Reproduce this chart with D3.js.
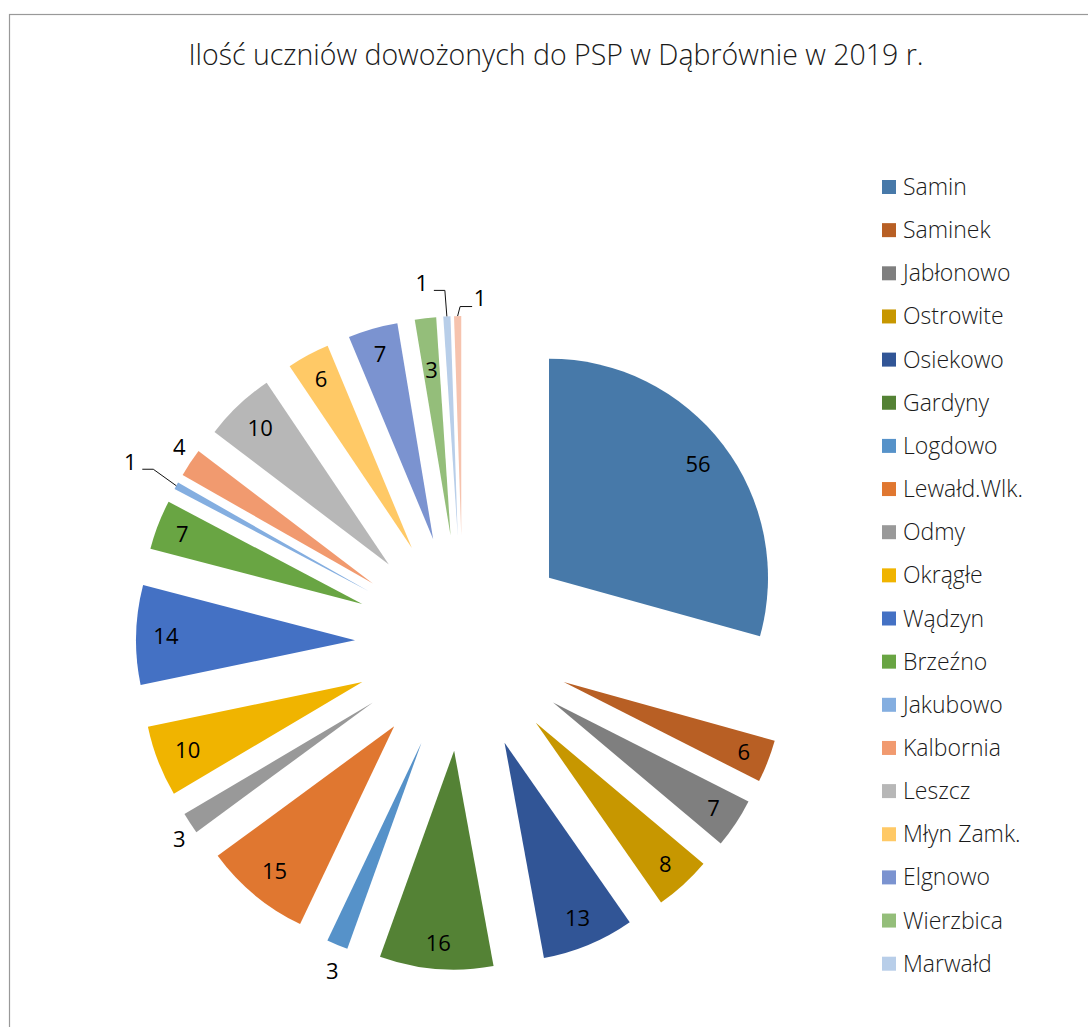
<!DOCTYPE html>
<html>
<head>
<meta charset="utf-8">
<script src="https://cdn.jsdelivr.net/npm/d3@7"></script>
<style>
  html, body { margin: 0; padding: 0; background: #fff; }
  svg { display: block; }
</style>
</head>
<body>
<div id="chart"></div>
<script>
// ---- Data ----
const title = "Ilość uczniów dowożonych do PSP w Dąbrównie w 2019 r.";
const categories = ["Samin", "Saminek", "Jabłonowo", "Ostrowite", "Osiekowo", "Gardyny",
  "Logdowo", "Lewałd.Wlk.", "Odmy", "Okrągłe", "Wądzyn", "Brzeźno", "Jakubowo",
  "Kalbornia", "Leszcz", "Młyn Zamk.", "Elgnowo", "Wierzbica", "Marwałd", "(20)"];
const values = [56, 6, 7, 8, 13, 16, 3, 15, 3, 10, 14, 7, 1, 4, 10, 6, 7, 3, 1, 1];
const legendCount = 19; // legend in the original is cut off after "Marwałd"

// ---- Styles / layout ----
const colors = ["#4779A9", "#B85F24", "#7F7F7F", "#C79700", "#315596", "#548235",
  "#5692C9", "#E07730", "#999999", "#F0B400", "#4471C4", "#69A543",
  "#84AEE0", "#F19A6F", "#B7B7B7", "#FFC966", "#7B93D0", "#94BE7A", "#B8CEE9", "#F6C3AE"];
const labelMode = { "Logdowo": "outside", "Odmy": "outside", "Kalbornia": "outside",
  "Jakubowo": "leader", "Marwałd": "leader", "(20)": "leader" };
const labelRadiusOverride = { "Wierzbica": 0.76 };
const leaderOffset = { "Jakubowo": [-46, -24], "Marwałd": [-25, -33.5], "(20)": [22.5, -18] };

const W = 1088, H = 1027;
const cx = 463, cy = 643, R = 219, explode = 108;
const labelFont = 22, legendFont = 23, titleFont = 28.5;

const data = categories.map((c, i) => ({ name: c, value: values[i], color: colors[i] }));

const svg = d3.select("#chart").append("svg")
  .attr("width", W).attr("height", H)
  .style("font-family", "'Open Sans', 'Noto Sans', sans-serif");

svg.append("rect").attr("x", 9.5).attr("y", 14.5).attr("width", 1200).attr("height", 1200)
  .attr("fill", "#fff").attr("stroke", "#999").attr("stroke-width", 1.2);

svg.append("text").attr("x", 556).attr("y", 65).attr("text-anchor", "middle")
  .attr("font-size", titleFont).attr("font-weight", 300).attr("fill", "#1a1a1a")
  .text(title);

const pie = d3.pie().sort(null).value(d => d.value).startAngle(0).endAngle(2 * Math.PI);
const arcs = pie(data);
const arc = d3.arc().innerRadius(0).outerRadius(R);

const g = svg.append("g").attr("transform", `translate(${cx},${cy})`);

arcs.forEach(a => {
  const mid = (a.startAngle + a.endAngle) / 2;
  a.dir = [Math.sin(mid), -Math.cos(mid)];
  a.apex = [a.dir[0] * explode, a.dir[1] * explode];
});

g.selectAll("path.slice").data(arcs).enter().append("path")
  .attr("class", "slice")
  .attr("transform", d => `translate(${d.apex[0]},${d.apex[1]})`)
  .attr("d", arc)
  .attr("fill", d => d.data.color);

// labels
const lg = g.append("g");
arcs.forEach(a => {
  const mode = labelMode[a.data.name] || "inside";
  const t = lg.append("text").attr("font-size", labelFont).attr("fill", "#000")
    .attr("text-anchor", "middle").text(a.data.value);
  const w = t.node().getComputedTextLength();
  const h = 16;
  const [dx, dy] = a.dir;
  const end = [a.apex[0] + dx * R, a.apex[1] + dy * R];
  let lx, ly;
  if (mode === "inside") {
    let r;
    if (labelRadiusOverride[a.data.name]) r = labelRadiusOverride[a.data.name] * R;
    else r = R - 17 - (Math.abs(dx) * w / 2 + Math.abs(dy) * h / 2);
    lx = a.apex[0] + dx * r; ly = a.apex[1] + dy * r;
  } else if (mode === "outside") {
    lx = end[0] + dx * 13; ly = end[1] + dy * 28;
  } else {
    const off = leaderOffset[a.data.name];
    lx = end[0] + off[0]; ly = end[1] + off[1];
    let s, m;
    if (off[0] < 0) { s = [lx + 12, ly + 7.5]; m = [s[0] + 11, s[1]]; }
    else { s = [lx - 8, ly + 8.5]; m = [s[0] - 12, s[1]]; }
    lg.append("path").attr("d", d3.line()([s, m, end]))
      .attr("fill", "none").attr("stroke", "#111").attr("stroke-width", 1);
  }
  t.attr("x", lx).attr("y", ly + labelFont * 0.357);
});

// legend
const legend = svg.append("g");
data.slice(0, legendCount).forEach((d, i) => {
  const y = 180 + i * 43.15;
  legend.append("rect").attr("x", 882).attr("y", y).attr("width", 14).attr("height", 14)
    .attr("fill", d.color);
  legend.append("text").attr("x", 903).attr("y", y + 15).attr("font-size", legendFont)
    .attr("font-weight", 300).attr("fill", "#1a1a1a").text(d.name);
});
</script>
</body>
</html>
